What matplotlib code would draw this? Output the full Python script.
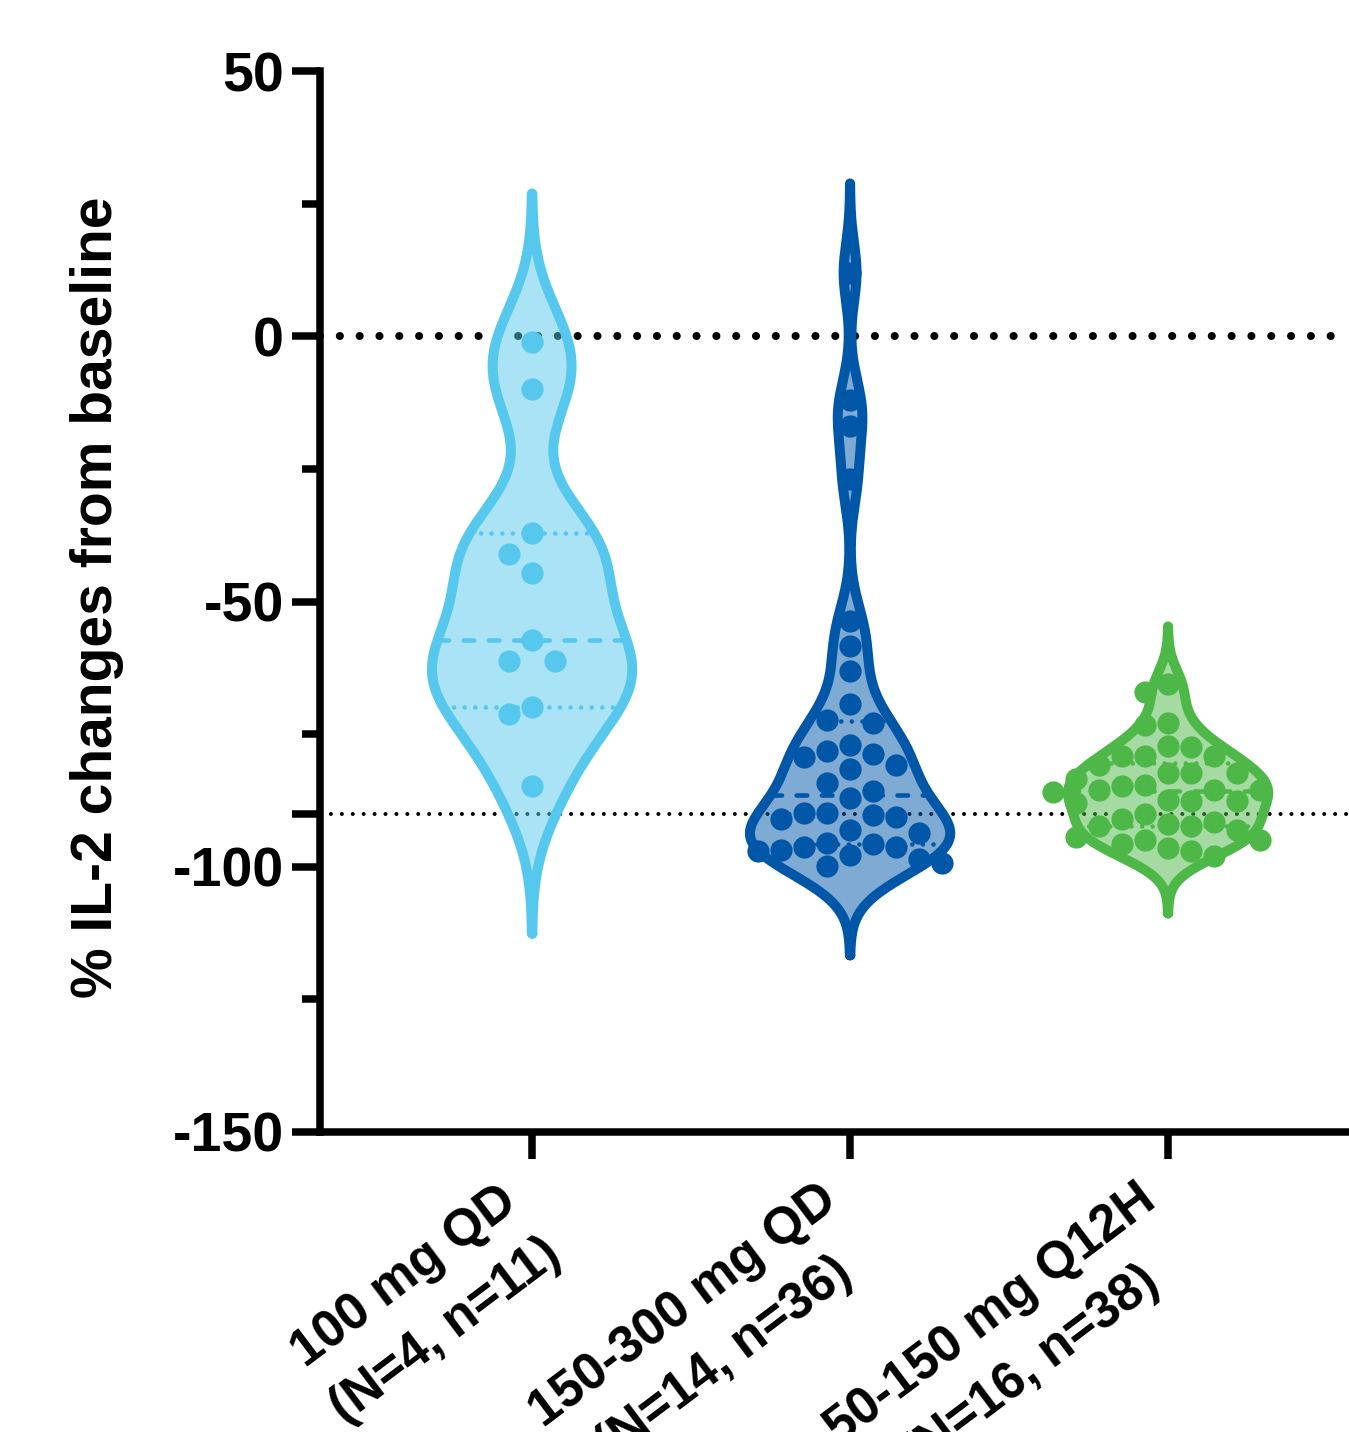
import numpy as np
import matplotlib
matplotlib.use("Agg")
import matplotlib.pyplot as plt
from matplotlib.transforms import ScaledTranslation

plt.rcParams["font.family"] = ["Liberation Sans", "DejaVu Sans"]
plt.rcParams["font.weight"] = "bold"

# ---------------------------------------------------------
# Data (% IL-2 change from baseline)
# ---------------------------------------------------------
groups = ["100 mg QD\n(N=4, n=11)",
          "150-300 mg QD\n(N=14, n=36)",
          "50-150 mg Q12H\n(N=16, n=38)"]

il2_100_qd = [-1, -10, -37, -41, -44.7, -57.3, -61.3, -61.3, -69.8, -71.3, -84.7]

il2_150_300_qd = [12, -12, -17, -27, -53.7, -58.3, -63.1, -69.4, -72.4, -72.9,
                  -77, -78.2, -78.7, -79.4, -80.9, -81.5, -84.2, -85.8, -87,
                  -89.8, -89.8, -90.2, -90.6, -91, -93, -93.6, -95.5, -95.8,
                  -96.2, -96.2, -96.8, -97.1, -97.7, -98.5, -99.2, -99.9]

il2_50_150_q12h = [-65.5, -67, -72.9, -73.2, -77.3, -77.5, -79.2, -79.2, -79.2,
                   -80.8, -82.3, -82.3, -82.3, -83.5, -84.5, -84.8, -85.5, -85.5,
                   -85.5, -86, -87.4, -87.7, -87.7, -88, -90, -91, -91.6, -92,
                   -92.3, -92.3, -93, -94.3, -95, -95, -95.8, -96.5, -97.1, -98]

ytick_vals = [50, 0, -50, -90, -100, -150]
ytick_labels = ["50", "0", "-50", "", "-100", "-150"]
yminor_vals = [25, -25, -75, -125]
ref_zero = 0
ref_cut = -90

# ---------------------------------------------------------
# Style
# ---------------------------------------------------------
colors = ["#56C8EE", "#0057A8", "#4DB848"]
bandwidths = [9.3, 5.6, 3.6]
half_width = 0.315
edge_lw = 7.2
dot_size = 16.0


def kde_outline(vals, bw, n=500):
    v = np.asarray(vals, float)
    ys = np.linspace(v.min() - 3 * bw, v.max() + 3 * bw, n)
    dens = np.exp(-0.5 * ((ys[:, None] - v[None, :]) / bw) ** 2).sum(axis=1)
    return ys, dens / dens.max() * half_width


def swarm_x(ax, vals, x0, step_px=23.0, min_px=23.0):
    v = np.asarray(vals, float)
    pix = ax.transData.transform(np.column_stack([np.full(len(v), x0), v]))
    unit_px = ax.transData.transform((1, 0))[0] - ax.transData.transform((0, 0))[0]
    cands = [0]
    for k in range(1, 12):
        cands += [-k, k]
    placed = []
    off = np.zeros(len(v))
    for idx in np.argsort(-v, kind="stable"):
        py = pix[idx, 1]
        for k in cands:
            px = k * step_px
            if all((px - qx) ** 2 + (py - qy) ** 2 >= min_px ** 2 for qx, qy in placed):
                break
        placed.append((px, py))
        off[idx] = px
    return x0 + off / unit_px


# ---------------------------------------------------------
# Figure
# ---------------------------------------------------------
fig = plt.figure(figsize=(13.49, 14.32), dpi=100)
ax = fig.add_axes([320 / 1349, 300 / 1432, 1029 / 1349, 1061 / 1432])
ax.set_xlim(-0.667, 2.569)
ax.set_ylim(-150, 50)

ax.axhline(ref_zero, color="black", lw=5.8, linestyle=(0, (0.01, 2.45)),
           dash_capstyle="round", zorder=1)
ax.axhline(ref_cut, color="black", lw=2.9, linestyle=(0, (0.01, 2.7)),
           dash_capstyle="round", zorder=1)

data = [il2_100_qd, il2_150_300_qd, il2_50_150_q12h]
for i, (vals, col, bw) in enumerate(zip(data, colors, bandwidths)):
    ys, w = kde_outline(vals, bw)
    ax.fill_betweenx(ys, i - w, i + w, color=col, alpha=0.5, lw=0, zorder=2)
    ax.plot(np.r_[i + w, (i - w)[::-1], i + w[0]], np.r_[ys, ys[::-1], ys[0]],
            color=col, lw=edge_lw, solid_joinstyle="round",
            solid_capstyle="round", zorder=4)

    q1, med, q3 = np.percentile(vals, [25, 50, 75], method="weibull")
    wm = np.interp(med, ys, w)
    ax.plot([i - wm, i + wm], [med, med], color=col, lw=3.3,
            linestyle=(0, (2.3, 3.2)), dash_capstyle="round", zorder=3)
    for q in (q1, q3):
        wq = np.interp(q, ys, w)
        ax.plot([i - wq, i + wq], [q, q], color=col, lw=3.3,
                linestyle=(0, (0.01, 2.3)), dash_capstyle="round", zorder=3)

    xs = swarm_x(ax, vals, i)
    ax.plot(xs, vals, "o", color=col, ms=dot_size, mew=0, zorder=5)

# ---------------------------------------------------------
# Axes
# ---------------------------------------------------------
for s in ("top", "right"):
    ax.spines[s].set_visible(False)
for s in ("left", "bottom"):
    ax.spines[s].set_linewidth(5.4)
    ax.spines[s].set_capstyle("projecting")

ax.set_yticks(ytick_vals)
ax.set_yticklabels(ytick_labels)
ax.set_yticks(yminor_vals, minor=True)
ax.tick_params(axis="y", which="major", length=20, width=5.4, pad=6,
               labelsize=40)
ax.tick_params(axis="y", which="minor", length=13, width=5.4)

ax.set_xticks([0, 1, 2])
ax.set_xticklabels(groups, rotation=37, ha="right", va="top",
                   rotation_mode="anchor", multialignment="center",
                   linespacing=1.5)
ax.tick_params(axis="x", length=19.5, width=5.4, pad=11, labelsize=37)
shift = ScaledTranslation(-33 / 100, 0, fig.dpi_scale_trans)
for lbl in ax.get_xticklabels():
    lbl.set_transform(lbl.get_transform() + shift)

fig.text(97 / 1349, 1 - 597 / 1432, "% IL-2 changes from baseline",
         rotation=90, ha="center", va="center", fontsize=41, fontweight="bold")

fig.savefig("out.png", dpi=100)
